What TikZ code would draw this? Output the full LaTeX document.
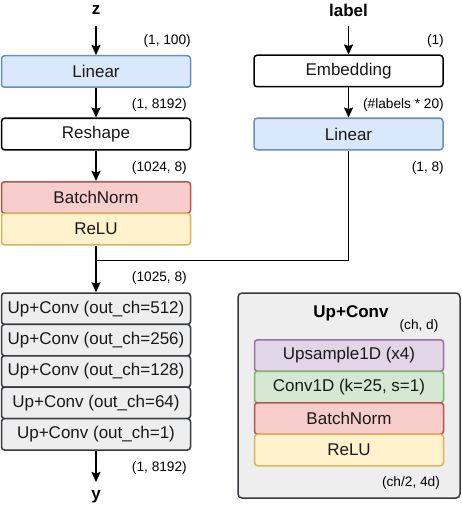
\documentclass[tikz,border=0pt]{standalone}
\usepackage{fontspec}
\setmainfont{Liberation Sans}
\usetikzlibrary{arrows.meta}
\definecolor{bluef}{HTML}{DAE8FC}\definecolor{blued}{HTML}{6C8EBF}
\definecolor{redf}{HTML}{F8CECC}\definecolor{redd}{HTML}{B85450}
\definecolor{yelf}{HTML}{FFF2CC}\definecolor{yeld}{HTML}{D6B656}
\definecolor{purf}{HTML}{E1D5E7}\definecolor{purd}{HTML}{9673A6}
\definecolor{grnf}{HTML}{D5E8D4}\definecolor{grnd}{HTML}{82B366}
\definecolor{grayf}{HTML}{EEEEEE}\definecolor{grayd}{HTML}{36393D}
\begin{document}
\begin{tikzpicture}[x=1pt,y=-1pt,
  blk/.style={draw,rounded corners=3pt,line width=1.5pt,minimum width=189pt,inner sep=0pt,
    font=\fontsize{17}{20}\selectfont,text=black!90},
  hb/.style={blk,minimum height=31.5pt},
  blue/.style={hb,fill=bluef,draw=blued},
  red/.style={hb,fill=redf,draw=redd},
  yel/.style={hb,fill=yelf,draw=yeld},
  pur/.style={hb,fill=purf,draw=purd},
  grn/.style={hb,fill=grnf,draw=grnd},
  wht/.style={hb,fill=white,draw=black},
  gry/.style={hb,fill=grayf,draw=grayd,minimum height=31.4pt},
  dim/.style={font=\fontsize{13.7}{16}\selectfont,inner sep=0pt,anchor=east},
  ttl/.style={font=\fontsize{17}{20}\selectfont\bfseries,inner sep=0pt},
  arr/.style={line width=1.6pt,-{Stealth[length=10pt,width=9pt,inset=1.5pt]}},
  ln/.style={line width=1.6pt}]
\useasboundingbox (0,0) rectangle (462,508);
% left column
\node[ttl] (z) at (96,10) {z};
\coordinate (zs) at (96,26);
\node[blue] (lin1) at (96,71.5) {Linear};
\node[wht] (resh) at (96,134) {Reshape};
\node[red] (bn1) at (96,197.5) {BatchNorm};
\node[yel] (relu1) at (96,229) {ReLU};
\node[dim] (d1) at (191,41) {(1, 100)};
\node[dim] (d2) at (187,105) {(1, 8192)};
\node[dim] (d3) at (187,168) {(1024, 8)};
\draw[arr] (zs) -- (lin1.north);
\draw[arr] (lin1.south) -- (resh.north);
\draw[arr] (resh.south) -- (bn1.north);
% right column
\node[ttl] (lab) at (348.5,10) {label};
\coordinate (ls) at (348.5,26);
\node[wht] (emb) at (348.5,71) {Embedding};
\node[blue] (lin2) at (348.5,134) {Linear};
\node[dim] (r1) at (444,41) {(1)};
\node[dim] (r2) at (444,105) {(\#labels * 20)};
\node[dim] (r3) at (444,168) {(1, 8)};
\draw[arr] (ls) -- (emb.north);
\draw[arr] (emb.south) -- (lin2.north);
% merge
\coordinate (j) at (96,260.5);
\draw[ln] (lin2.south) |- (j);
% up+conv stack
\node[gry] (u1) at (96,308.7) {Up+Conv (out\_ch=512)};
\node[gry] (u2) at (96,340.1) {Up+Conv (out\_ch=256)};
\node[gry] (u3) at (96,371.5) {Up+Conv (out\_ch=128)};
\node[gry] (u4) at (96,402.9) {Up+Conv (out\_ch=64)};
\node[gry] (u5) at (96,434.3) {Up+Conv (out\_ch=1)};
\draw[arr] (relu1.south) -- (u1.north);
\node[dim] (d4) at (187,278) {(1025, 8)};
\coordinate (ye) at (96,482);
\draw[arr] (u5.south) -- (ye);
\node[dim] (d5) at (187,468) {(1, 8192)};
\node[ttl] (y) at (96,497) {y};
% panel
\node[draw=grayd,fill=grayf,line width=1.5pt,rounded corners=4pt,minimum width=222pt,minimum height=205pt,inner sep=0pt] (panel) at (349,395.5) {};
\node[ttl] (pt) at (351,313) {Up+Conv};
\node[font=\fontsize{13.7}{16}\selectfont,inner sep=0pt] (pd) at (419,326) {(ch, d)};
\node[pur] (p1) at (349,355.5) {Upsample1D (x4)};
\node[grn] (p2) at (349,387) {Conv1D (k=25, s=1)};
\node[red] (p3) at (349,418.5) {BatchNorm};
\node[yel] (p4) at (349,450) {ReLU};
\node[font=\fontsize{13.7}{16}\selectfont,inner sep=0pt] (po) at (411,483) {(ch/2, 4d)};
\end{tikzpicture}
\end{document}
